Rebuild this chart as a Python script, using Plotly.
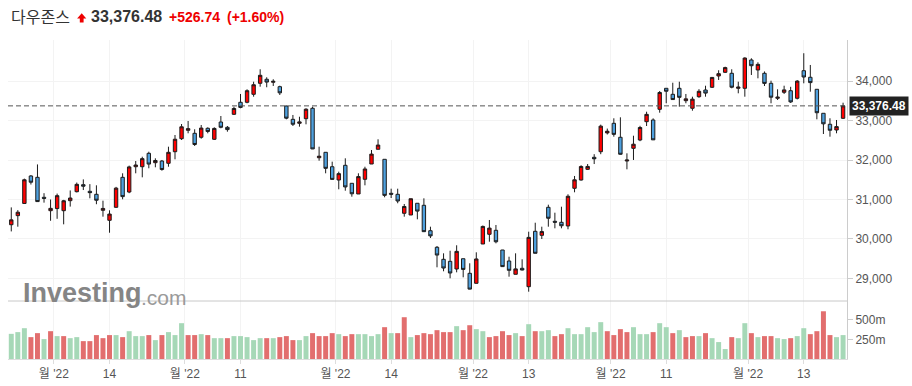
import plotly.graph_objects as go

# ---------------- data ----------------
months = {
    "06": [22, 23, 24, 27, 28, 29, 30],
    "07": [1, 5, 6, 7, 8, 11, 12, 13, 14, 15, 18, 19, 20, 21, 22, 25, 26, 27, 28, 29],
    "08": [1, 2, 3, 4, 5, 8, 9, 10, 11, 12, 15, 16, 17, 18, 19, 22, 23, 24, 25, 26, 29, 30, 31],
    "09": [1, 2, 6, 7, 8, 9, 12, 13, 14, 15, 16, 19, 20, 21, 22, 23, 26, 27, 28, 29, 30],
    "10": [3, 4, 5, 6, 7, 10, 11, 12, 13, 14, 17, 18, 19, 20, 21, 24, 25, 26, 27, 28, 31],
    "11": [1, 2, 3, 4, 7, 8, 9, 10, 11, 14, 15, 16, 17, 18, 21, 22, 23, 25, 28, 29, 30],
    "12": [1, 2, 5, 6, 7, 8, 9, 12, 13, 14, 15, 16, 19, 20, 21],
}
dates = [f"2022-{m}-{d:02d}" for m, days in months.items() for d in days]

opens = [30360, 30590, 30900, 31597, 31563, 31056, 30716, 30770, 30716, 30970,
         31198, 31376, 31208, 31132, 30726, 30472, 30802, 31563, 31190, 31832,
         31832, 32172, 31934, 31977, 31919, 32213, 32543, 32756, 32680, 32579,
         32807, 32528, 32967, 32832, 33162, 33467, 33467, 33670, 33949, 34051,
         33975, 33863, 33373, 33035, 32934, 33051, 33315, 32060, 32198, 31832,
         31495, 31868, 31411, 31140, 31513, 31901, 32274, 32020, 31157, 31132,
         30650, 30607, 30904, 30853, 30208, 29787, 29482, 29431, 29236, 29497,
         29127, 28873, 29871, 30117, 30218, 29718, 29439, 29102, 29254, 28787,
         30193, 30091, 30802, 30447, 30421, 30328, 31284, 31495, 31766, 32071,
         32213, 32690, 32934, 32579, 31977, 32299, 32510, 32975, 33018, 33289,
         33822, 33670, 33822, 33508, 33315, 33609, 33779, 33848, 34135, 34228,
         34203, 33822, 33822, 34541, 34287, 34203, 33949, 33569, 33721, 33761,
         33569, 34269, 34102, 33797, 33188, 32909, 32764, 33061]
highs = [30800, 30730, 31530, 31620, 31890, 31160, 31000, 31150, 30990, 31230,
         31430, 31510, 31390, 31360, 30970, 30726, 31320, 31665, 31860, 31977,
         32086, 32213, 32045, 32003, 32340, 32637, 32916, 32992, 32782, 32891,
         32832, 32832, 33119, 32865, 33355, 33678, 33797, 33990, 34305, 34102,
         34051, 33888, 33380, 33145, 33101, 33315, 33355, 32340, 32198, 31960,
         31706, 32045, 31411, 31665, 31832, 32256, 32528, 32020, 31274, 31274,
         30886, 31020, 30904, 31030, 30310, 29820, 29634, 29700, 29838, 29497,
         29381, 29660, 30340, 30480, 30353, 29720, 29548, 29634, 29482, 30183,
         30411, 30310, 30868, 30665, 30817, 31132, 31597, 31870, 31900, 32150,
         32900, 32800, 33061, 33086, 32172, 32619, 32870, 33228, 33060, 33754,
         33822, 33964, 33990, 33678, 33609, 33800, 33888, 34110, 34280, 34370,
         34305, 33990, 34609, 34584, 34482, 34250, 34015, 33797, 33888, 33860,
         34030, 34712, 34414, 33797, 33188, 33061, 33018, 33457]
lows = [30190, 30310, 30890, 31380, 30940, 30920, 30460, 30510, 30370, 30820,
        31180, 31240, 31030, 30880, 30564, 30157, 30790, 31005, 31160, 31665,
        31563, 31792, 31817, 31731, 31832, 32020, 32510, 32680, 32358, 32543,
        32680, 32510, 32807, 32721, 33145, 33315, 33442, 33609, 33863, 33848,
        33881, 33652, 33035, 32865, 32848, 32908, 32280, 31985, 31665, 31500,
        31259, 31223, 31071, 31140, 31360, 31901, 32274, 31056, 31038, 30904,
        30564, 30607, 30497, 30180, 30023, 29279, 29178, 29000, 29152, 29025,
        28720, 28870, 29871, 29929, 29888, 29290, 29041, 29100, 29200, 28660,
        29634, 29997, 30310, 30269, 30269, 30244, 31183, 31480, 31750, 31900,
        32150, 32650, 32594, 32140, 31766, 32003, 32480, 32865, 32510, 33203,
        33442, 33530, 33355, 33442, 33254, 33580, 33609, 33830, 34033, 34210,
        33822, 33695, 33609, 34160, 34076, 33880, 33442, 33525, 33678, 33450,
        33540, 33949, 33736, 33035, 32662, 32594, 32680, 33043]
closes = [30483.13, 30677.36, 31500.68, 31438.26, 30946.99, 31029.31, 30775.43, 31097.26, 30967.82, 31037.68,
          31384.55, 31338.15, 31173.84, 30981.33, 30772.79, 30630.17, 31288.26, 31072.61, 31827.05, 31874.84,
          32036.90, 31899.29, 31990.04, 31761.54, 32197.59, 32529.63, 32845.13, 32798.40, 32396.17, 32812.50,
          32726.82, 32803.47, 32832.54, 32774.41, 33309.51, 33336.67, 33761.05, 33912.44, 34152.01, 33980.32,
          33999.04, 33706.74, 33063.61, 32909.59, 32969.23, 33291.78, 32283.40, 32098.99, 31790.87, 31510.43,
          31656.42, 31318.44, 31145.30, 31581.28, 31774.52, 32151.71, 32381.34, 31104.97, 31135.09, 30961.82,
          30822.42, 31019.68, 30706.23, 30183.78, 30076.68, 29590.41, 29260.81, 29134.99, 29683.74, 29225.61,
          28725.51, 29490.89, 30316.32, 30273.87, 29926.94, 29296.79, 29202.88, 29239.19, 29210.85, 30038.72,
          29634.83, 30185.82, 30523.80, 30423.81, 30333.59, 31082.56, 31499.62, 31836.74, 31839.11, 32033.28,
          32861.80, 32732.95, 32653.20, 32147.76, 32001.25, 32403.22, 32827.00, 33160.83, 32513.94, 33715.37,
          33747.86, 33536.70, 33592.92, 33553.83, 33546.32, 33745.69, 33700.28, 34098.10, 34194.06, 34347.03,
          33849.46, 33852.53, 34589.77, 34395.01, 34429.88, 33947.10, 33596.34, 33597.92, 33781.48, 33476.46,
          34005.04, 34108.64, 33966.35, 33202.22, 32920.46, 32757.54, 32849.74, 33376.48]
volumes_m = [321, 343, 393, 279, 330, 254, 355, 292, 292, 266,
             279, 228, 228, 305, 266, 305, 305, 279, 355, 292,
             292, 305, 241, 305, 343, 305, 457, 305, 305, 317,
             305, 266, 266, 266, 292, 292, 279, 241, 266, 266,
             266, 279, 292, 241, 241, 292, 330, 292, 292, 330,
             317, 292, 317, 317, 317, 292, 317, 406, 330, 330,
             533, 279, 305, 330, 317, 368, 343, 343, 419,
             368, 431, 381, 355, 279, 292, 355, 305, 330, 292,
             444, 355, 355, 368, 292, 317, 393, 317, 317, 406,
             343, 470, 355, 305, 381, 343, 406, 317, 317, 343,
             457, 406, 330, 368, 279, 292, 292, 330, 266, 216,
             127, 279, 266, 457, 330, 279, 292, 292, 266, 254,
             266, 292, 393, 317, 355, 609, 305, 279, 305]

tick_dates = ["2022-07-01", "2022-07-14", "2022-08-01", "2022-08-11", "2022-09-01", "2022-09-14",
              "2022-10-03", "2022-10-13", "2022-11-01", "2022-11-11", "2022-12-01", "2022-12-13"]
tick_text = ["월 '22", "14", "월 '22", "11", "월 '22", "14",
             "월 '22", "13", "월 '22", "11", "월 '22", "13"]
price_ticks = [29000, 30000, 31000, 32000, 33000, 34000]
volume_ticks = [250, 500]
volume_tick_text = ["250m", "500m"]

title_name = "다우존스"
last_price = "33,376.48"
change_text = "+526.74"
change_pct = "(+1.60%)"

# ---------------- derived ----------------
xs = list(range(len(dates)))
tickvals = []
for d, t in zip(tick_dates, tick_text):
    i = dates.index(d)
    tickvals.append(i - 0.5 if "월" in t else i)

vol_colors = []
for i, c in enumerate(closes):
    up = True if i == 0 else c >= closes[i - 1]
    vol_colors.append("#a6d8b7" if up else "#e26e6e")

# page pixel layout: plot area x 8..847, y 40..359 (body margin removed by post_script)
W, H = 912, 386
L, R, T, B = 8, 847, 40, 359
def px(x):
    return (x - L) / (R - L)
def py(y):
    return (B - y) / (B - T)

vol_dom_top = py(301)

fig = go.Figure()
fig.add_trace(go.Candlestick(
    x=xs, open=opens, high=highs, low=lows, close=closes,
    increasing=dict(fillcolor="#ff0000", line=dict(color="#1c1c1c", width=1)),
    decreasing=dict(fillcolor="#4ea0de", line=dict(color="#1c1c1c", width=1)),
    whiskerwidth=0, xaxis="x", yaxis="y", showlegend=False,
))
fig.add_trace(go.Bar(
    x=xs, y=volumes_m, marker=dict(color=vol_colors, line=dict(width=0)),
    xaxis="x", yaxis="y2", showlegend=False,
))

axis_font = dict(family="Arial, Liberation Sans", size=12, color="#555555")
fig.update_layout(
    width=W, height=H,
    margin=dict(l=L, r=W - R, t=T, b=H - B, autoexpand=False),
    paper_bgcolor="white", plot_bgcolor="white",
    bargap=0.24, boxgap=0.26,
    xaxis=dict(
        anchor="y2", range=[-0.5, 127.6], tickmode="array",
        tickvals=tickvals, ticktext=tick_text,
        tickfont=dict(family="Arial, Noto Sans CJK KR", size=12, color="#555555"),
        showline=True, linecolor="#dddddd", linewidth=1,
        ticks="outside", ticklen=4, tickcolor="#dddddd",
        showgrid=True, gridcolor="#f3f3f3", zeroline=False,
        rangeslider=dict(visible=False), fixedrange=True, automargin=False,
    ),
    yaxis=dict(
        domain=[vol_dom_top, 1], side="right", range=[28424, 35048],
        tickmode="array", tickvals=price_ticks, tickformat=",d",
        tickfont=axis_font, ticks="outside", ticklen=5, tickcolor="#cccccc",
        showline=True, linecolor="#cccccc", linewidth=1,
        showgrid=True, gridcolor="#f3f3f3", zeroline=False, automargin=False,
    ),
    yaxis2=dict(
        domain=[0, vol_dom_top], side="right", range=[0, 740], anchor="x",
        tickmode="array", tickvals=volume_ticks, ticktext=volume_tick_text,
        tickfont=axis_font, ticks="outside", ticklen=5, tickcolor="#cccccc",
        showline=True, linecolor="#cccccc", linewidth=1,
        showgrid=False, zeroline=False, automargin=False,
    ),
    hovermode=False,
)

shapes = [
    # separator between panels
    dict(type="line", xref="paper", yref="paper", x0=0, x1=1, y0=vol_dom_top, y1=vol_dom_top,
         line=dict(color="#c8c8c8", width=1)),
    # last price dashed line
    dict(type="line", xref="paper", yref="y", x0=0, x1=1, y0=closes[-1], y1=closes[-1],
         line=dict(color="#555555", width=1, dash="5px,3px")),
    # header up arrow
    dict(type="path", xref="paper", yref="paper",
         path=(f"M {px(81.7)} {py(13.2)} L {px(86.3)} {py(18.6)} L {px(83.6)} {py(18.6)} "
               f"L {px(83.6)} {py(22.6)} L {px(79.8)} {py(22.6)} L {px(79.8)} {py(18.6)} "
               f"L {px(77.1)} {py(18.6)} Z"),
         fillcolor="#ee0000", line=dict(width=0)),
]

annotations = [
    dict(xref="paper", yref="paper", x=px(9), y=py(16), xanchor="left", yanchor="middle",
         text=title_name, showarrow=False,
         font=dict(family="Noto Sans CJK KR", size=16, color="#333333")),
    dict(xref="paper", yref="paper", x=px(89), y=py(16), xanchor="left", yanchor="middle",
         text=f"<b>{last_price}</b>", showarrow=False,
         font=dict(family="Arial, Liberation Sans", size=16, color="#333333")),
    dict(xref="paper", yref="paper", x=px(167), y=py(16.5), xanchor="left", yanchor="middle",
         text=f"<b>{change_text}</b>", showarrow=False,
         font=dict(family="Arial, Liberation Sans", size=14, color="#ee0000")),
    dict(xref="paper", yref="paper", x=px(225), y=py(16.5), xanchor="left", yanchor="middle",
         text=f"<b>{change_pct}</b>", showarrow=False,
         font=dict(family="Arial, Liberation Sans", size=14, color="#ee0000")),
    # watermark
    dict(xref="paper", yref="paper", x=px(21), y=py(293), xanchor="left", yanchor="middle",
         text="<b>Investing</b>", showarrow=False,
         font=dict(family="Arial, Liberation Sans", size=27, color="#858585")),
    dict(xref="paper", yref="paper", x=px(139), y=py(297), xanchor="left", yanchor="middle",
         text=".com", showarrow=False,
         font=dict(family="Arial, Liberation Sans", size=21, color="#9a9a9a")),
    # last price label
    dict(xref="paper", yref="y", x=1, y=closes[-1], xanchor="left", yanchor="middle",
         xshift=2, text=f"<b>{last_price}</b>", showarrow=False, bgcolor="#222222", borderpad=2,
         font=dict(family="Arial, Liberation Sans", size=12, color="white")),
]

fig.update_layout(shapes=shapes, annotations=annotations)
fig.write_html(
    "out.html",
    config={"displayModeBar": False, "staticPlot": True},
    post_script="document.body.style.margin='0';document.body.style.overflow='hidden';",
)
